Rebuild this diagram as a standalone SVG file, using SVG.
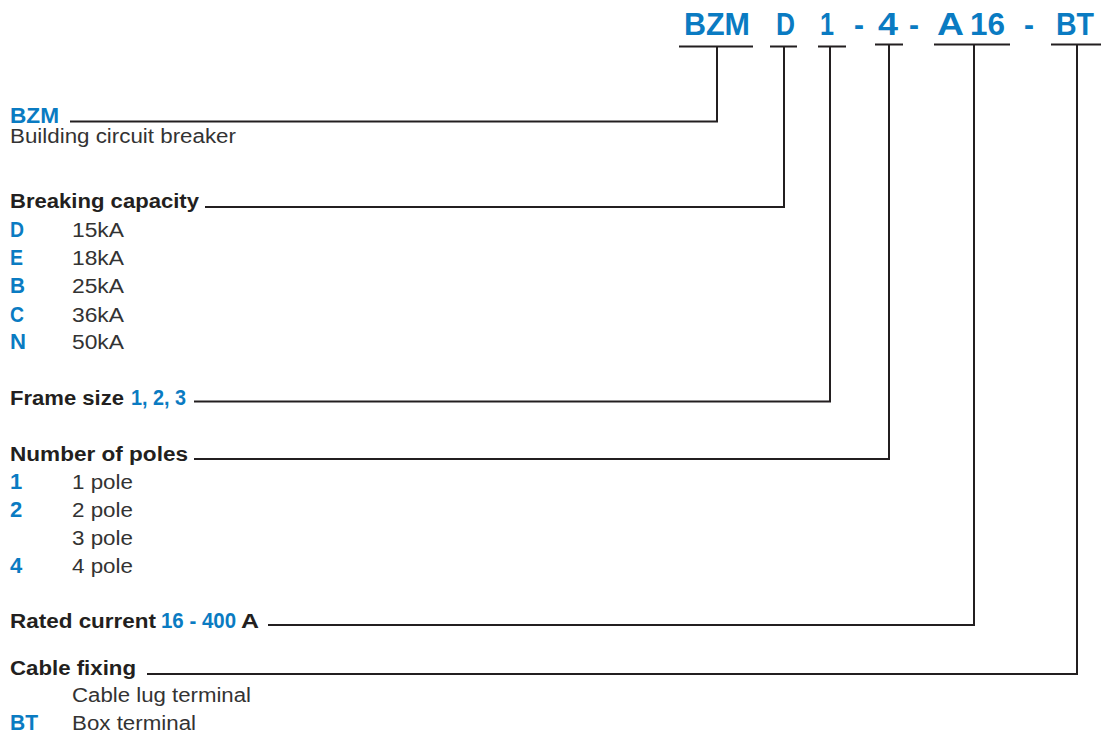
<svg xmlns="http://www.w3.org/2000/svg" width="1104" height="738" viewBox="0 0 1104 738">
<style>
.bl{font-family:"Liberation Sans Narrow","Arial Narrow","Liberation Sans",sans-serif;font-weight:bold;fill:#0a7bc2}
.t{font-family:"Liberation Sans Narrow","Arial Narrow","Liberation Sans",sans-serif;font-weight:bold;fill:#0a7bc2;font-size:31px}
.h{font-family:"Liberation Sans",Arial,sans-serif;font-weight:bold;fill:#231f20;font-size:20px}
.b{font-family:"Liberation Sans",Arial,sans-serif;fill:#333;font-size:20px}
.s{font-size:22px}
.ln{fill:none;stroke:#231f20;stroke-width:2}
</style>
<rect width="1104" height="738" fill="#fff"/>
<g id="code">
<text class="t" x="684" y="35" textLength="66" lengthAdjust="spacingAndGlyphs">BZM</text>
<text class="t" x="776" y="35" textLength="19" lengthAdjust="spacingAndGlyphs">D</text>
<text class="t" x="820" y="35" textLength="14" lengthAdjust="spacingAndGlyphs">1</text>
<text class="t" x="854" y="35" textLength="10" lengthAdjust="spacingAndGlyphs">-</text>
<text class="t" x="878" y="35" textLength="20" lengthAdjust="spacingAndGlyphs">4</text>
<text class="t" x="909" y="35" textLength="10" lengthAdjust="spacingAndGlyphs">-</text>
<text class="t" x="937" y="35" textLength="27" lengthAdjust="spacingAndGlyphs">A</text>
<text class="t" x="970" y="35" textLength="35" lengthAdjust="spacingAndGlyphs">16</text>
<text class="t" x="1024" y="35" textLength="10" lengthAdjust="spacingAndGlyphs">-</text>
<text class="t" x="1056" y="35" textLength="38" lengthAdjust="spacingAndGlyphs">BT</text>
</g>
<g id="connectors">
<path class="ln" d="M679 46.5H753M70 121.5H717V46.5"/>
<path class="ln" d="M770 46.5H797M205 207H784V46.5"/>
<path class="ln" d="M818 46.5H846M194 401.5H830V46.5"/>
<path class="ln" d="M875 44.5H903M194 459H889V44.5"/>
<path class="ln" d="M934 44.5H1010M268 625H974V44.5"/>
<path class="ln" d="M1051 44.5H1101M147 674H1077V44.5"/>
</g>
<g id="bzm">
<text class="bl s" x="10" y="123" textLength="49" lengthAdjust="spacingAndGlyphs">BZM</text>
<text class="b" x="10" y="143" textLength="226" lengthAdjust="spacingAndGlyphs">Building circuit breaker</text>
</g>
<g id="breaking">
<text class="h" x="10" y="208" textLength="189" lengthAdjust="spacingAndGlyphs">Breaking capacity</text>
<text class="bl s" x="10" y="237" textLength="14" lengthAdjust="spacingAndGlyphs">D</text><text class="b" x="72" y="237" textLength="52" lengthAdjust="spacingAndGlyphs">15kA</text>
<text class="bl s" x="10" y="265" textLength="13" lengthAdjust="spacingAndGlyphs">E</text><text class="b" x="72" y="265" textLength="52" lengthAdjust="spacingAndGlyphs">18kA</text>
<text class="bl s" x="10" y="293" textLength="15" lengthAdjust="spacingAndGlyphs">B</text><text class="b" x="72" y="293" textLength="52" lengthAdjust="spacingAndGlyphs">25kA</text>
<text class="bl s" x="10" y="322" textLength="14" lengthAdjust="spacingAndGlyphs">C</text><text class="b" x="72" y="322" textLength="52" lengthAdjust="spacingAndGlyphs">36kA</text>
<text class="bl s" x="10" y="349" textLength="16" lengthAdjust="spacingAndGlyphs">N</text><text class="b" x="72" y="349" textLength="52" lengthAdjust="spacingAndGlyphs">50kA</text>
</g>
<g id="frame">
<text class="h" x="10" y="405" textLength="114" lengthAdjust="spacingAndGlyphs">Frame size</text>
<text class="bl s" x="131" y="405" textLength="55" lengthAdjust="spacingAndGlyphs">1, 2, 3</text>
</g>
<g id="poles">
<text class="h" x="10" y="461" textLength="178" lengthAdjust="spacingAndGlyphs">Number of poles</text>
<text class="bl s" x="10" y="489">1</text><text class="b" x="72" y="489" textLength="61" lengthAdjust="spacingAndGlyphs">1 pole</text>
<text class="bl s" x="10" y="517">2</text><text class="b" x="72" y="517" textLength="61" lengthAdjust="spacingAndGlyphs">2 pole</text>
<text class="b" x="72" y="545" textLength="61" lengthAdjust="spacingAndGlyphs">3 pole</text>
<text class="bl s" x="10" y="573">4</text><text class="b" x="72" y="573" textLength="61" lengthAdjust="spacingAndGlyphs">4 pole</text>
</g>
<g id="rated">
<text class="h" x="10" y="628" textLength="146" lengthAdjust="spacingAndGlyphs">Rated current</text>
<text class="bl s" x="161" y="628" textLength="75" lengthAdjust="spacingAndGlyphs">16 - 400</text>
<text class="h" x="241" y="628" textLength="18" lengthAdjust="spacingAndGlyphs">A</text>
</g>
<g id="cable">
<text class="h" x="10" y="675" textLength="126" lengthAdjust="spacingAndGlyphs">Cable fixing</text>
<text class="b" x="72" y="702" textLength="179" lengthAdjust="spacingAndGlyphs">Cable lug terminal</text>
<text class="bl s" x="10" y="730" textLength="28" lengthAdjust="spacingAndGlyphs">BT</text>
<text class="b" x="72" y="730" textLength="124" lengthAdjust="spacingAndGlyphs">Box terminal</text>
</g>
</svg>
